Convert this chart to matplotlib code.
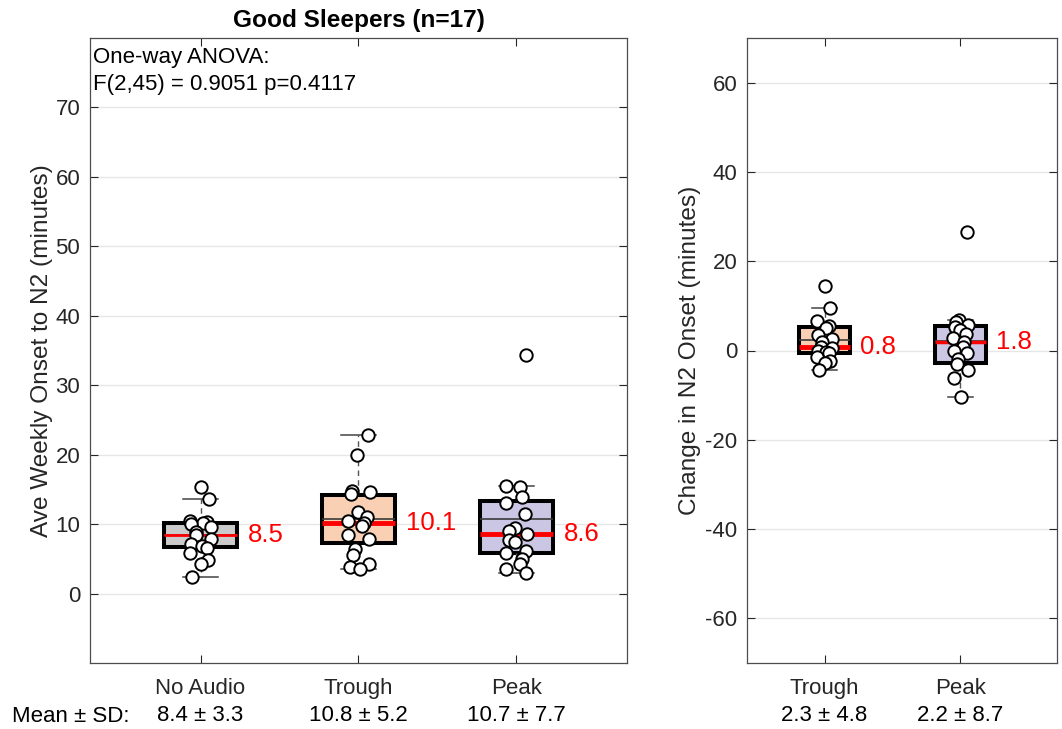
import matplotlib
matplotlib.use("Agg")
import matplotlib.pyplot as plt
import matplotlib.transforms as mtransforms
import numpy as np

plt.rcParams['font.family'] = ['Liberation Sans', 'DejaVu Sans']
plt.rcParams['axes.unicode_minus'] = False

# onset to N2 per subject (minutes), weekly averages
no_audio = [15.4, 13.6, 10.4, 10.3, 10.1, 10.0, 9.6, 8.8, 8.5, 7.9, 7.2, 6.9, 6.5, 5.8, 4.8, 4.2, 2.4]
trough = [22.8, 20.0, 14.8, 14.6, 14.3, 11.8, 11.0, 10.4, 10.1, 9.7, 8.5, 7.9, 6.4, 5.6, 4.3, 3.8, 3.5]
peak = [34.4, 15.5, 15.3, 13.9, 13.1, 11.4, 9.4, 9.0, 8.6, 7.7, 7.4, 6.2, 5.8, 5.0, 4.3, 3.5, 2.9]

# change relative to no audio
d_trough = [14.4, 9.5, 6.6, 5.6, 5.0, 3.4, 2.5, 1.8, 0.8, 0.5, 0.0, -0.3, -0.6, -1.5, -2.3, -2.9, -4.3]
d_peak = [26.6, 6.8, 6.3, 5.8, 5.2, 4.6, 3.7, 2.8, 1.8, 0.8, 0.0, -0.5, -2.0, -3.0, -4.4, -6.2, -10.4]

groups_l = ['No Audio', 'Trough', 'Peak']
groups_r = ['Trough', 'Peak']

# box summaries: q1, median, q3, lower whisker, upper whisker
q1_l = [6.65, 7.35, 5.9]
med_l = [8.5, 10.1, 8.6]
q3_l = [10.1, 14.2, 13.4]
wlo_l = [2.4, 3.5, 2.9]
whi_l = [13.6, 22.8, 15.5]
mean_l = [8.4, 10.8, 10.7]
sd_l = [3.3, 5.2, 7.7]

q1_r = [-0.6, -2.7]
med_r = [0.8, 1.8]
q3_r = [5.2, 5.6]
wlo_r = [-4.3, -10.4]
whi_r = [9.5, 6.9]
mean_r = [2.3, 2.2]
sd_r = [4.8, 8.7]

fill_l = ['#cbcbcb', '#f9d0b4', '#cbc6e4']
fill_r = ['#f9d0b4', '#cbc6e4']
med_lw_l = [2.0, 3.5, 3.5]
med_lw_r = [3.5, 2.5]

AX_COL = '#262626'


def style_axes(ax):
    ax.tick_params(direction='in', length=6, width=0.8, colors=AX_COL,
                   labelsize=16, top=True, right=True, labelcolor='#262626')
    ax.tick_params(axis='y', pad=7)
    ax.tick_params(axis='x', pad=11)
    for s in ax.spines.values():
        s.set_color('#4d4d4d')
        s.set_linewidth(0.9)
    ax.yaxis.grid(True, color='#e6e6e6', lw=1.0)
    ax.set_axisbelow(True)


def draw_boxes(ax, data, q1, med, q3, wlo, whi, mean, fills, med_lw, bw, cw, jit):
    pos = np.arange(1, len(data) + 1)
    stats = []
    for i in range(len(data)):
        stats.append(dict(q1=q1[i], med=med[i], q3=q3[i], whislo=wlo[i],
                          whishi=whi[i], mean=mean[i], fliers=[]))
    bp = ax.bxp(stats, positions=pos, widths=bw, patch_artist=True,
                showmeans=True, meanline=True, showfliers=False,
                boxprops=dict(edgecolor='black', linewidth=2.9),
                whiskerprops=dict(color='#555555', linewidth=1.0, linestyle=(0, (4, 3))),
                capprops=dict(color='#444444', linewidth=1.1),
                meanprops=dict(color='#3a3a3a', linewidth=1.2, linestyle='-'),
                medianprops=dict(color='red', linewidth=3.0),
                capwidths=cw, zorder=2)
    for patch, c in zip(bp['boxes'], fills):
        patch.set_facecolor(c)
    for ln, lw in zip(bp['medians'], med_lw):
        ln.set_linewidth(lw)
        ln.set_zorder(3)
    # subject points on top of the boxes
    for i, vals in enumerate(data):
        n = len(vals)
        off = jit * np.sin(np.arange(n) * 2.3 + i)
        ax.scatter(pos[i] + off, vals, s=80, facecolor='white',
                   edgecolor='black', linewidth=1.4, zorder=5)
        ax.text(pos[i] + bw / 2 + 0.07, med[i], f'{med[i]:.1f}', color='red',
                fontsize=18.5, va='center', ha='left', zorder=6)
    return pos


fig = plt.figure(figsize=(10.62, 7.29), dpi=100)
ax1 = fig.add_axes([90 / 1062, 66 / 729, 537 / 1062, 625 / 729])
ax2 = fig.add_axes([747 / 1062, 66 / 729, 310 / 1062, 625 / 729])

# left panel: absolute onset
style_axes(ax1)
pos_l = draw_boxes(ax1, [no_audio, trough, peak], q1_l, med_l, q3_l, wlo_l, whi_l,
                   mean_l, fill_l, med_lw_l, 0.46, 0.22, 0.07)
ax1.set_xlim(0.3, 3.7)
ax1.set_ylim(-10, 80)
ax1.set_yticks(np.arange(0, 71, 10))
ax1.set_xticks(pos_l)
ax1.set_xticklabels(groups_l)
ax1.set_ylabel('Ave Weekly Onset to N2 (minutes)', fontsize=17.6, color='#262626', labelpad=2)
ax1.set_title('Good Sleepers (n=17)', fontsize=17.6, fontweight='bold', pad=8)
ax1.text(0.006, 0.986, 'One-way ANOVA:\nF(2,45) = 0.9051 p=0.4117', transform=ax1.transAxes,
         fontsize=16, va='top', ha='left', linespacing=1.38)

trans1 = mtransforms.blended_transform_factory(ax1.transData, ax1.transAxes)
for p, m, s in zip(pos_l, mean_l, sd_l):
    ax1.text(p, -0.084, f'{m:.1f} \u00b1 {s:.1f}', transform=trans1, ha='center',
             va='center', fontsize=16, color='black')
fig.text(12 / 1062, 1 - 716 / 729, 'Mean \u00b1 SD:', ha='left', va='center', fontsize=16)

# right panel: change from no audio
style_axes(ax2)
pos_r = draw_boxes(ax2, [d_trough, d_peak], q1_r, med_r, q3_r, wlo_r, whi_r,
                   mean_r, fill_r, med_lw_r, 0.38, 0.18, 0.055)
ax2.set_xlim(0.43, 2.71)
ax2.set_ylim(-70, 70)
ax2.set_yticks(np.arange(-60, 61, 20))
ax2.set_xticks(pos_r)
ax2.set_xticklabels(groups_r)
ax2.set_ylabel('Change in N2 Onset (minutes)', fontsize=17.6, color='#262626', labelpad=3)

trans2 = mtransforms.blended_transform_factory(ax2.transData, ax2.transAxes)
for p, m, s in zip(pos_r, mean_r, sd_r):
    ax2.text(p, -0.084, f'{m:.1f} \u00b1 {s:.1f}', transform=trans2, ha='center',
             va='center', fontsize=16, color='black')

fig.savefig('out.png', dpi=100)
